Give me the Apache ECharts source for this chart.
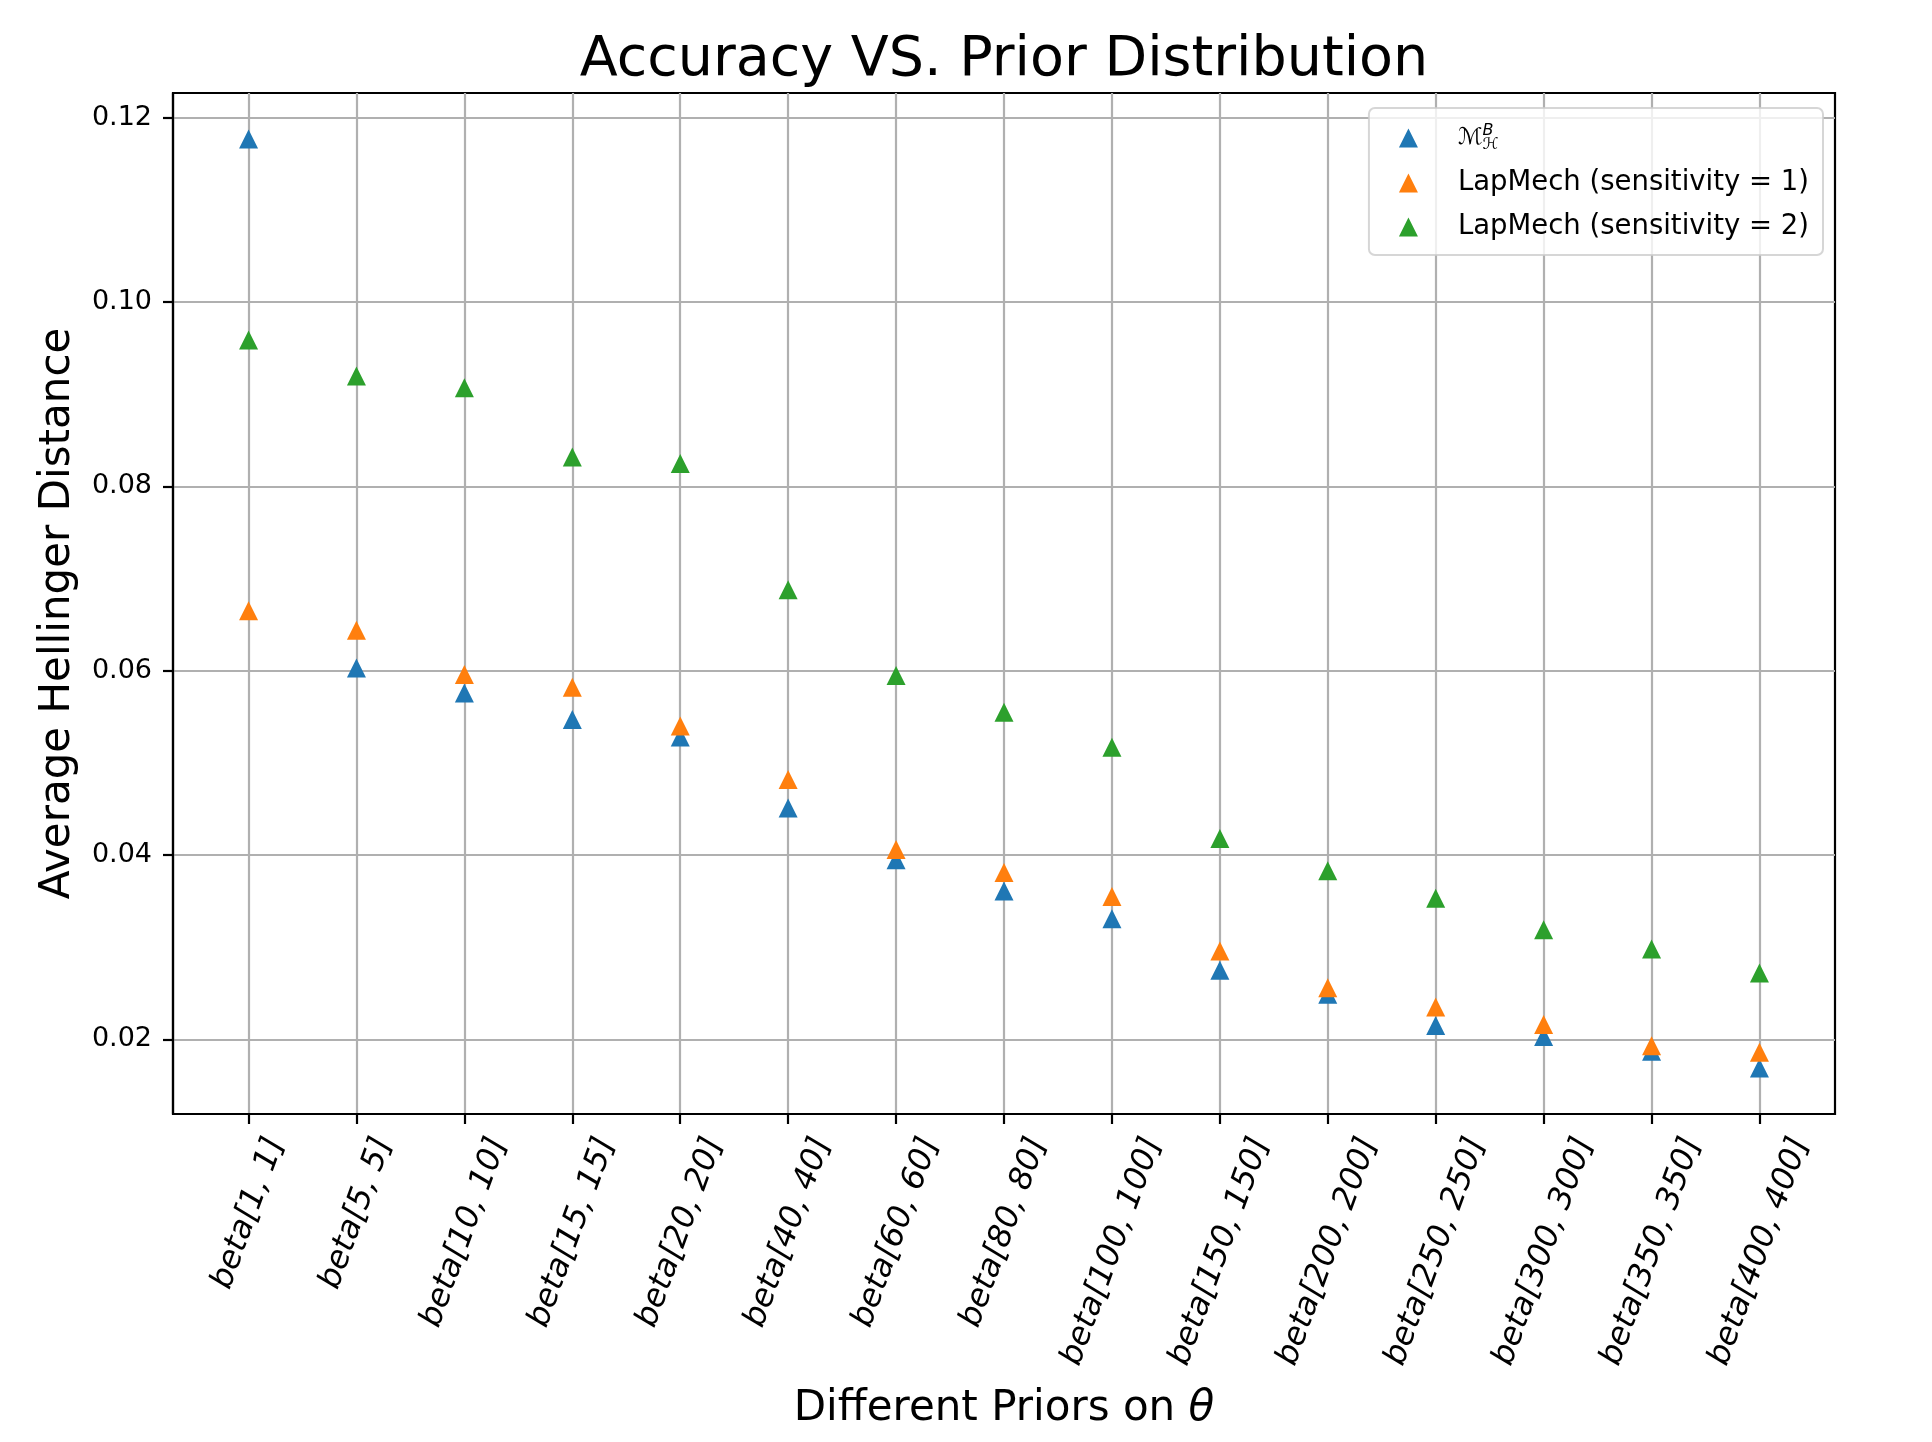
<!DOCTYPE html>
<html>
<head>
<meta charset="utf-8">
<title>Accuracy VS. Prior Distribution</title>
<script src="https://cdn.jsdelivr.net/npm/echarts@6/dist/echarts.min.js"></script>
<style>
  html, body { margin: 0; padding: 0; background: #fff; }
  #chart { width: 1932px; height: 1442px; }
</style>
</head>
<body>
<div id="chart"></div>
<script>
// priors on theta (x axis)
let priors = ["beta[1, 1]", "beta[5, 5]", "beta[10, 10]", "beta[15, 15]", "beta[20, 20]",
  "beta[40, 40]", "beta[60, 60]", "beta[80, 80]", "beta[100, 100]", "beta[150, 150]",
  "beta[200, 200]", "beta[250, 250]", "beta[300, 300]", "beta[350, 350]", "beta[400, 400]"];

let seriesNames = ["M_H^B", "LapMech (sensitivity = 1)", "LapMech (sensitivity = 2)"];

// average hellinger distance
let mechB = [0.1177, 0.0603, 0.0576, 0.0547, 0.0528, 0.0451, 0.0395, 0.0361, 0.0331, 0.0275,
  0.0249, 0.0215, 0.0203, 0.0187, 0.0169];
let lapSens1 = [0.0665, 0.0644, 0.0596, 0.0582, 0.0540, 0.0482, 0.0406, 0.0381, 0.0355, 0.0296,
  0.0256, 0.0235, 0.0216, 0.0193, 0.0186];
let lapSens2 = [0.0959, 0.0920, 0.0907, 0.0832, 0.0825, 0.0688, 0.0595, 0.0555, 0.0517, 0.0418,
  0.0383, 0.0353, 0.0319, 0.0298, 0.0272];

let yTicks = [0.02, 0.04, 0.06, 0.08, 0.10, 0.12];

let colors = ["#1f77b4", "#ff7f0e", "#2ca02c"];
let font = "DejaVu Sans";

// plot box
let gridLeft = 173, gridRight = 97, gridTop = 93, gridBottom = 328;
let xMin = -0.7, xMax = priors.length - 1 + 0.7;
let unitPx = (1932 - gridLeft - gridRight) / (xMax - xMin);

// matplotlib centres the rotated label box on the tick, echarts pins the end
// of the text there, so push each label right by a bit of its own width
let ctx = document.createElement("canvas").getContext("2d");
ctx.font = "italic 32px '" + font + "'";
let labelPos = priors.map((p, i) => i + 0.171 * ctx.measureText(p).width / unitPx);
let tickPos = priors.map((p, i) => i);

function toPoints(arr) {
  return arr.map((v, i) => [i, v]);
}

var myChart = echarts.init(document.getElementById("chart"), null, { renderer: "canvas" });

var option = {
  animation: false,
  backgroundColor: "#ffffff",
  textStyle: { fontFamily: font, color: "#000" },
  title: {
    text: "Accuracy VS. Prior Distribution",
    left: 999,
    top: 28,
    textAlign: "center",
    textStyle: { fontFamily: font, fontSize: 55.5, fontWeight: "normal", color: "#000" }
  },
  legend: {
    orient: "vertical",
    right: 109,
    top: 108,
    padding: [15, 14, 14, 30],
    itemGap: 16,
    itemWidth: 19,
    itemHeight: 19,
    backgroundColor: "rgba(255,255,255,0.8)",
    borderColor: "rgba(204,204,204,0.8)",
    borderWidth: 2,
    borderRadius: 6,
    data: seriesNames,
    formatter: function (name) {
      if (name === seriesNames[0]) return "{m|\u2133}{sup|B}{sub|\u210B}";
      return name;
    },
    textStyle: {
      fontFamily: font,
      fontSize: 27.5,
      color: "#000",
      lineHeight: 28,
      padding: [0, 0, 0, 35],
      rich: {
        m: { fontSize: 23, fontFamily: font, fontStyle: "italic", lineHeight: 30, verticalAlign: "middle" },
        sup: { fontSize: 16, fontFamily: font, fontStyle: "italic", width: 0, verticalAlign: "top", lineHeight: 14 },
        sub: { fontSize: 16, fontFamily: font, verticalAlign: "bottom", lineHeight: 14 }
      }
    }
  },
  grid: {
    left: gridLeft,
    right: gridRight,
    top: gridTop,
    bottom: gridBottom,
    show: true,
    borderColor: "#000",
    borderWidth: 2.2,
    containLabel: false,
    outerBoundsMode: "none"
  },
  xAxis: {
    type: "value",
    min: xMin,
    max: xMax,
    name: "Different Priors on {i|\u03B8}",
    nameLocation: "middle",
    nameGap: 274,
    nameTextStyle: {
      fontFamily: font, fontSize: 42, color: "#000",
      rich: { i: { fontFamily: font, fontSize: 42, fontStyle: "italic", color: "#000" } }
    },
    axisLine: { show: true, onZero: false, lineStyle: { color: "#000", width: 2.2 } },
    axisTick: { show: true, customValues: tickPos, length: 10, lineStyle: { color: "#000", width: 2.2 } },
    axisLabel: {
      customValues: labelPos,
      rotate: 70,
      margin: 25,
      fontFamily: font,
      fontStyle: "italic",
      fontSize: 32,
      color: "#000",
      formatter: function (v) {
        return priors[Math.round(v)] || "";
      }
    },
    splitLine: { show: true, lineStyle: { color: "#b0b0b0", width: 2.2 } }
  },
  yAxis: {
    type: "value",
    min: 0.0119,
    max: 0.1227,
    name: "Average Hellinger Distance",
    nameLocation: "middle",
    nameGap: 94,
    nameTextStyle: { fontFamily: font, fontSize: 42, color: "#000", padding: [0, 20, 0, 0] },
    axisLine: { show: true, onZero: false, lineStyle: { color: "#000", width: 2.2 } },
    axisTick: { show: true, customValues: yTicks, length: 10, lineStyle: { color: "#000", width: 2.2 } },
    axisLabel: {
      customValues: yTicks,
      margin: 21,
      fontFamily: font,
      fontSize: 27,
      color: "#000",
      formatter: function (v) { return v.toFixed(2); }
    },
    splitLine: { show: true, lineStyle: { color: "#b0b0b0", width: 2.2 } }
  },
  series: [
    {
      name: seriesNames[0],
      type: "scatter",
      symbol: "triangle",
      symbolSize: 19,
      itemStyle: { color: colors[0], opacity: 1 },
      data: toPoints(mechB)
    },
    {
      name: seriesNames[1],
      type: "scatter",
      symbol: "triangle",
      symbolSize: 19,
      itemStyle: { color: colors[1], opacity: 1 },
      data: toPoints(lapSens1)
    },
    {
      name: seriesNames[2],
      type: "scatter",
      symbol: "triangle",
      symbolSize: 19,
      itemStyle: { color: colors[2], opacity: 1 },
      data: toPoints(lapSens2)
    }
  ]
};

option && myChart.setOption(option);
</script>
</body>
</html>
